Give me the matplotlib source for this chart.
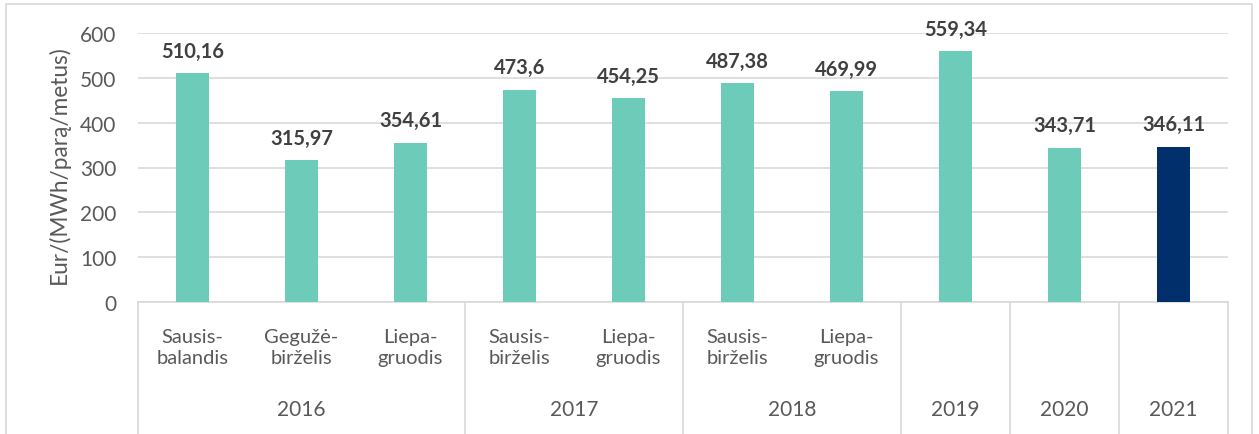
import numpy as np
import matplotlib.pyplot as plt
from matplotlib.transforms import blended_transform_factory

# Duomenys
laikotarpiai = ['Sausis-\nbalandis', 'Gegužė-\nbirželis', 'Liepa-\ngruodis',
                'Sausis-\nbirželis', 'Liepa-\ngruodis',
                'Sausis-\nbirželis', 'Liepa-\ngruodis',
                '', '', '']
metai = ['2016', '2017', '2018', '2019', '2020', '2021']
metu_dydis = [3, 2, 2, 1, 1, 1]
kainos = [510.16, 315.97, 354.61, 473.6, 454.25, 487.38, 469.99, 559.34, 343.71, 346.11]

plt.rcParams['font.family'] = ['Lato', 'DejaVu Sans']

W, H = 1259, 435
fig = plt.figure(figsize=(W / 100, H / 100), dpi=100)

# chart border
fig.add_artist(plt.Rectangle((6 / W, -0.1), (1252 - 6) / W, 1.1 - 5 / H,
                             transform=fig.transFigure, fill=False,
                             edgecolor='#d9d9d9', linewidth=1.2))

ax = fig.add_axes([138 / W, (H - 303) / H, (1228 - 138) / W, (303 - 34) / H])

x = np.arange(len(kainos))
spalvos = ['#6dcbb9'] * (len(kainos) - 1) + ['#002f6c']
ax.bar(x, kainos, width=0.31, color=spalvos, zorder=3)

for xi, v in zip(x, kainos):
    ax.text(xi, v + 28, str(v).replace('.', ','), ha='center', va='bottom',
            fontsize=14.5, fontweight='bold', color='#404040')

ax.set_xlim(-0.5, len(kainos) - 0.5)
ax.set_ylim(0, 600)
ax.set_yticks(range(0, 601, 100))
ax.tick_params(axis='y', length=0, labelsize=15, labelcolor='#595959', pad=15.5)
ax.set_xticks([])
ax.grid(axis='y', color='#d9d9d9', linewidth=1.2, zorder=0)
for s in ['top', 'right', 'left']:
    ax.spines[s].set_visible(False)
ax.spines['bottom'].set_color('#d9d9d9')
ax.spines['bottom'].set_linewidth(1.2)
ax.set_ylabel('Eur/(MWh/parą/metus)', fontsize=16.3, color='#595959')
ax.yaxis.set_label_coords((70 - 138) / (1228 - 138), (303 - 165) / (303 - 34))

# daugiapakopė kategorijų ašis
tr = blended_transform_factory(ax.transData, ax.transAxes)
px = 1 / (303 - 34)
for xi, lab in enumerate(laikotarpiai):
    if lab:
        ax.text(xi, -(348 - 303) * px, lab, transform=tr, ha='center', va='center',
                fontsize=14.5, color='#595959', linespacing=1.3)

ribos = [-0.5]
for n in metu_dydis:
    ribos.append(ribos[-1] + n)
for r in ribos:
    ax.plot([r, r], [0, -0.55], transform=tr, color='#d9d9d9', linewidth=1.2,
            clip_on=False)
for i, m in enumerate(metai):
    c = (ribos[i] + ribos[i + 1]) / 2
    ax.text(c, -(410 - 303) * px, m, transform=tr, ha='center', va='center',
            fontsize=15, color='#595959')

fig.savefig('out.png', dpi=100)
